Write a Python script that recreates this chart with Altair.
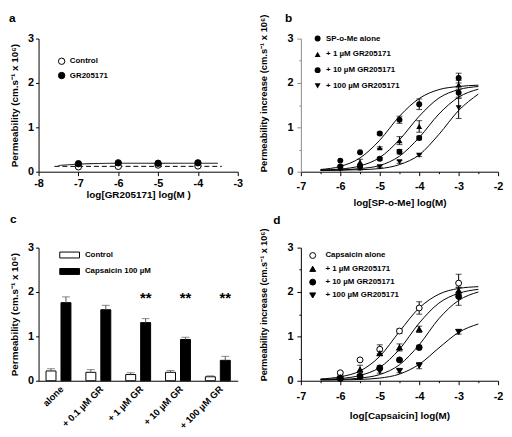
import altair as alt
import pandas as pd

FONT = "Liberation Sans"

# ---------------- panel a ----------------
a_conc = [-7, -6, -5, -4]
a_series = ["Control", "GR205171"]
a_control = [0.11, 0.12, 0.15, 0.13]
a_gr = [0.18, 0.20, 0.19, 0.20]
a_fit_gr_x = [-7.5, -7.0, -6.5, -6.0, -3.5]
a_fit_gr_y = [0.14, 0.17, 0.185, 0.19, 0.19]
a_fit_ctrl_x = [-7.6, -3.4]
a_fit_ctrl_y = [0.12, 0.12]
a_ticks = [-8, -7, -6, -5, -4, -3]

# ---------------- panel b ----------------
b_conc = [-6, -5.5, -5, -4.5, -4, -3]
b_series = ["SP-o-Me alone", "+ 1 µM GR205171", "+ 10 µM GR205171", "+ 100 µM GR205171"]
b_alone = [0.25, 0.44, 0.86, 1.17, 1.52, 2.11]
b_gr1 = [0.09, 0.22, 0.54, 0.70, 1.02, 1.96]
b_gr10 = [0.12, 0.13, 0.29, 0.45, 0.76, 1.78]
b_gr100 = [0.05, 0.07, 0.11, 0.22, 0.37, 1.44]
b_alone_err = [0.0, 0.0, 0.03, 0.08, 0.12, 0.11]
b_gr1_err = [0.0, 0.06, 0.02, 0.09, 0.13, 0.10]
b_gr10_err = [0.03, 0.03, 0.03, 0.05, 0.04, 0.13]
b_gr100_err = [0.0, 0.03, 0.02, 0.03, 0.03, 0.24]
fit_x = [-6.5, -6, -5.5, -5, -4.5, -4, -3.5, -3, -2.5]
b_fit_alone = [0.05, 0.12, 0.31, 0.71, 1.25, 1.65, 1.85, 1.92, 1.95]
b_fit_gr1 = [0.04, 0.06, 0.13, 0.32, 0.72, 1.25, 1.66, 1.85, 1.92]
b_fit_gr10 = [0.03, 0.04, 0.07, 0.14, 0.35, 0.77, 1.30, 1.68, 1.86]
b_fit_gr100 = [0.03, 0.035, 0.045, 0.07, 0.16, 0.38, 0.84, 1.38, 1.75]
b_shapes = ["circle", "triangle-up", "circle", "triangle-down"]

# ---------------- panel c ----------------
c_groups = ["alone", "+ 0.1 µM GR", "+ 1 µM GR", "+ 10 µM GR", "+ 100 µM GR"]
c_series = ["Control", "Capsaicin 100 µM"]
c_control = [0.22, 0.19, 0.14, 0.19, 0.09]
c_control_err = [0.05, 0.06, 0.04, 0.04, 0.02]
c_caps = [1.76, 1.60, 1.31, 0.93, 0.46]
c_caps_err = [0.13, 0.10, 0.09, 0.05, 0.09]
c_stars = ["", "", "**", "**", "**"]

# ---------------- panel d ----------------
d_conc = [-6, -5.5, -5, -4.5, -4, -3]
d_series = ["Capsaicin alone", "+ 1 µM GR205171", "+ 10 µM GR205171", "+ 100 µM GR205171"]
d_alone = [0.18, 0.47, 0.71, 1.12, 1.64, 2.20]
d_gr1 = [0.08, 0.25, 0.62, 0.75, 1.16, 2.03]
d_gr10 = [0.05, 0.10, 0.29, 0.47, 0.75, 1.90]
d_gr100 = [0.04, 0.08, 0.22, 0.22, 0.34, 1.10]
d_alone_err = [0.03, 0.03, 0.10, 0.05, 0.14, 0.20]
d_gr1_err = [0.04, 0.10, 0.05, 0.08, 0.07, 0.08]
d_gr10_err = [0.02, 0.03, 0.05, 0.02, 0.05, 0.20]
d_gr100_err = [0.02, 0.03, 0.05, 0.04, 0.07, 0.05]
d_fit_alone = [0.04, 0.09, 0.22, 0.55, 1.11, 1.64, 1.95, 2.08, 2.12]
d_fit_gr1 = [0.03, 0.05, 0.12, 0.30, 0.71, 1.30, 1.75, 1.97, 2.06]
d_fit_gr10 = [0.02, 0.03, 0.06, 0.14, 0.36, 0.81, 1.40, 1.81, 2.00]
d_fit_gr100 = [0.02, 0.02, 0.03, 0.06, 0.15, 0.37, 0.74, 1.09, 1.28]
d_shapes = ["circle", "triangle-up", "circle", "triangle-down"]
d_fills = ["white", "black", "black", "black"]

panel_letters = ["a", "b", "c", "d"]

half_ticks = [-7, -6.5, -6, -5.5, -5, -4.5, -4, -3.5, -3, -2.5, -2]
y_major = [0, 1, 2, 3]
y_minor = [0, 0.5, 1, 1.5, 2, 2.5, 3]

YTITLE = "Permeability (cm.s\u207b\u00b9 x 10\u2076)"
YTITLE_INC = "Permeability increase (cm.s\u207b\u00b9 x 10\u2076)"


def points_frame(conc, names, means, errs):
    rows = []
    for name, m, e in zip(names, means, errs):
        for x, y, err in zip(conc, m, e):
            rows.append(dict(x=x, y=y, err=err, lo=y - err, hi=y + err, s=name))
    return pd.DataFrame(rows)


def fit_frame(xs, names, curves):
    rows = []
    for name, c in zip(names, curves):
        for x, y in zip(xs, c):
            rows.append(dict(x=x, y=y, f=name))
    return pd.DataFrame(rows)


def caps_frame(df):
    d = df[df.err > 0]
    return pd.concat([d.assign(c=d.lo), d.assign(c=d.hi)], ignore_index=True)


def axis(title, values, label_pad=2, title_pad=4, title_size=10, anchor=None,
         color="black", major=4, minor=2):
    kw = dict(title=title, values=values,
              labelExpr="datum.value % 1 == 0 ? '' + datum.value : ''",
              tickSize={"condition": {"test": "datum.value % 1 != 0", "value": minor}, "value": major},
              labelPadding=label_pad, titlePadding=title_pad, titleFontSize=title_size,
              domainColor=color, tickColor=color)
    if anchor:
        kw["titleAnchor"] = anchor
    return alt.Axis(**kw)


def legend(x, y, row_pad, label_off, size=36, **kw):
    return alt.Legend(orient="none", legendX=x, legendY=y, title=None, padding=0,
                      labelFont=FONT, labelFontSize=8, labelFontWeight="bold", labelColor="black",
                      rowPadding=row_pad, labelOffset=label_off, symbolSize=size,
                      symbolStrokeColor="black", symbolStrokeWidth=1, **kw)


def letter(ch, dx, dy):
    # panel label, placed relative to the panel's plot area
    return alt.Chart(pd.DataFrame({"t": [ch]})).mark_text(
        font=FONT, fontSize=12, fontWeight="bold", align="left", baseline="alphabetic", color="black"
    ).encode(x=alt.value(dx), y=alt.value(dy), text="t:N")


yscale = alt.Scale(domain=[0, 3], nice=False, zero=True)

# ================= panel a =================
a_pts = pd.DataFrame({"x": a_conc * 2, "y": a_control + a_gr,
                      "s": [a_series[0]] * 4 + [a_series[1]] * 4})
a_fit = pd.concat([
    pd.DataFrame({"x": a_fit_gr_x, "y": a_fit_gr_y, "f": "fit " + a_series[1]}),
    pd.DataFrame({"x": a_fit_ctrl_x, "y": a_fit_ctrl_y, "f": "fit " + a_series[0]}),
], ignore_index=True)
xa = alt.X("x:Q", scale=alt.Scale(domain=[-8, -3], nice=False, zero=False),
           axis=axis("log[GR205171] log(M )", a_ticks, label_pad=2, title_pad=1))
ya = alt.Y("y:Q", scale=yscale, axis=axis(YTITLE, y_major, label_pad=2, title_pad=8, major=3))

a_lines = alt.Chart(a_fit).mark_line(color="black", strokeWidth=1, interpolate="monotone").encode(
    x=xa, y=ya,
    strokeDash=alt.StrokeDash("f:N", scale=alt.Scale(domain=["fit " + a_series[0], "fit " + a_series[1]],
                                                     range=[[5, 3], [1, 0]]), legend=None),
)
a_points = alt.Chart(a_pts).mark_point(shape="circle", filled=False, color="black", size=42,
                                       strokeWidth=1, opacity=1).encode(
    x=xa, y=ya,
    fill=alt.Fill("s:N", scale=alt.Scale(domain=a_series, range=["white", "black"]),
                  legend=legend(19.4, 19, 2.5, 4.3, size=42, symbolType="circle")),
)
panel_a = alt.layer(a_lines, a_points, letter(panel_letters[0], -30, -17)).properties(width=202, height=135)

# ================= panel b =================
b_pts = points_frame(b_conc, b_series, [b_alone, b_gr1, b_gr10, b_gr100],
                     [b_alone_err, b_gr1_err, b_gr10_err, b_gr100_err])
b_fit = fit_frame(fit_x, b_series, [b_fit_alone, b_fit_gr1, b_fit_gr10, b_fit_gr100])
xb = alt.X("x:Q", scale=alt.Scale(domain=[-7, -2], nice=False, zero=False),
           axis=axis("log[SP-o-Me] log(M)", half_ticks, label_pad=5, title_pad=6))
yb_axis = axis(YTITLE_INC, y_minor, label_pad=4, title_pad=19, title_size=9.5, anchor="start",
               color="#8a8a8a", major=4, minor=2)
yb = alt.Y("y:Q", scale=yscale, axis=yb_axis)

b_curves = alt.Chart(b_fit).mark_line(color="black", strokeWidth=1, interpolate="monotone").encode(
    x=xb, y=yb, detail="f:N")
b_rules = alt.Chart(b_pts[b_pts.err > 0]).mark_rule(color="black", strokeWidth=1).encode(
    x=xb, y=alt.Y("lo:Q", scale=yscale, axis=yb_axis), y2="hi:Q")
b_caps = alt.Chart(caps_frame(b_pts)).mark_tick(orient="horizontal", color="black", size=6, thickness=1).encode(
    x=xb, y=alt.Y("c:Q", scale=yscale, axis=yb_axis))
b_points = alt.Chart(b_pts).mark_point(filled=True, color="black", size=36, opacity=1).encode(
    x=xb, y=yb,
    shape=alt.Shape("s:N", scale=alt.Scale(domain=b_series, range=b_shapes),
                    legend=legend(13, -4, 6.0, 4.6, symbolFillColor="black")),
)
panel_b = alt.layer(b_curves, b_rules, b_caps, b_points,
                    letter(panel_letters[1], -16, -16.5)).properties(width=200, height=135)

# ================= panel c =================
c_df = pd.DataFrame({
    "g": c_groups * 2,
    "t": [c_series[0]] * 5 + [c_series[1]] * 5,
    "v": c_control + c_caps,
    "e": c_control_err + c_caps_err,
})
c_df["hi"] = c_df.v + c_df.e
c_star_df = pd.DataFrame({"g": c_groups, "t": c_series[1], "star": c_stars})

xc = alt.X("g:N", sort=c_groups,
           scale=alt.Scale(paddingInner=0.375, paddingOuter=0.1875),
           axis=alt.Axis(title=None, labelAngle=-45, labelAlign="right", labelBaseline="top",
                         ticks=False, labelPadding=3, labelFontSize=9.5, domainColor="black"))
xoc = alt.XOffset("t:N", sort=c_series, scale=alt.Scale(paddingInner=1 / 3, paddingOuter=0))
yc_axis = axis(YTITLE, y_major, label_pad=2, title_pad=8, major=3)
yc = alt.Y("v:Q", scale=yscale, axis=yc_axis)

c_bars = alt.Chart(c_df).mark_bar(stroke="black", strokeWidth=1).encode(
    x=xc, xOffset=xoc, y=yc,
    fill=alt.Fill("t:N", scale=alt.Scale(domain=c_series, range=["white", "black"]),
                  legend=legend(27, 3, 5.7, 11, size=64, symbolType="M-2.5,-0.75H2.5V0.75H-2.5Z")),
)
c_err = alt.Chart(c_df).mark_rule(color="#555555", strokeWidth=1).encode(
    x=xc, xOffset=xoc, y=alt.Y("v:Q", scale=yscale, axis=yc_axis), y2="hi:Q")
c_cap = alt.Chart(c_df).mark_tick(orient="horizontal", color="#555555", size=8, thickness=1).encode(
    x=xc, xOffset=xoc, y=alt.Y("hi:Q", scale=yscale, axis=yc_axis))
c_text = alt.Chart(c_star_df).mark_text(font=FONT, fontSize=15, fontWeight="bold", baseline="middle",
                                        dy=4, color="black").encode(
    x=xc, xOffset=xoc, y=alt.Y(datum=1.96, scale=yscale, axis=yc_axis), text="star:N")
panel_c = alt.layer(c_bars, c_err, c_cap, c_text,
                    letter(panel_letters[2], -29, -25)).properties(width=202, height=135)

# ================= panel d =================
d_pts = points_frame(d_conc, d_series, [d_alone, d_gr1, d_gr10, d_gr100],
                     [d_alone_err, d_gr1_err, d_gr10_err, d_gr100_err])
d_fit = fit_frame(fit_x, d_series, [d_fit_alone, d_fit_gr1, d_fit_gr10, d_fit_gr100])
xd = alt.X("x:Q", scale=alt.Scale(domain=[-7, -2], nice=False, zero=False),
           axis=axis("log[Capsaicin] log(M)", half_ticks, label_pad=6, title_pad=9))
yd_axis = axis(YTITLE_INC, y_minor, label_pad=4, title_pad=19, title_size=9.2, anchor="start")
yd = alt.Y("y:Q", scale=yscale, axis=yd_axis)

d_leg = legend(8, 4, 3.5, 8.9)
d_curves = alt.Chart(d_fit).mark_line(color="black", strokeWidth=1, interpolate="monotone").encode(
    x=xd, y=yd, detail="f:N")
d_rules = alt.Chart(d_pts[d_pts.err > 0]).mark_rule(color="black", strokeWidth=1).encode(
    x=xd, y=alt.Y("lo:Q", scale=yscale, axis=yd_axis), y2="hi:Q")
d_caps = alt.Chart(caps_frame(d_pts)).mark_tick(orient="horizontal", color="black", size=6, thickness=1).encode(
    x=xd, y=alt.Y("c:Q", scale=yscale, axis=yd_axis))
d_points = alt.Chart(d_pts).mark_point(filled=False, size=36, strokeWidth=1, opacity=1).encode(
    x=xd, y=yd,
    shape=alt.Shape("s:N", scale=alt.Scale(domain=d_series, range=d_shapes), legend=d_leg),
    fill=alt.Fill("s:N", scale=alt.Scale(domain=d_series, range=d_fills), legend=d_leg),
    stroke=alt.Stroke("s:N", scale=alt.Scale(domain=d_series, range=["black"] * 4), legend=d_leg),
)
panel_d = alt.layer(d_curves, d_rules, d_caps, d_points,
                    letter(panel_letters[3], -28, -24)).properties(width=200, height=135)

chart = alt.concat(panel_a, panel_b, panel_c, panel_d, columns=2,
                   spacing={"row": 77, "column": 64}).resolve_scale(
    x="independent", y="independent", shape="independent", fill="independent",
    stroke="independent", strokeDash="independent", xOffset="independent",
).properties(bounds="flush", padding=0).configure_view(
    stroke="transparent").configure_axis(
    grid=False, labelFont=FONT, titleFont=FONT, labelFontWeight="bold", titleFontWeight="bold",
    labelFontSize=11, titleFontSize=10, labelColor="black", titleColor="black",
    domainColor="black", tickColor="black", labelFlush=False, labelOverlap=False,
).configure_legend(labelFont=FONT)

chart.save("out.html", embed_options={"renderer": "svg", "actions": False})
